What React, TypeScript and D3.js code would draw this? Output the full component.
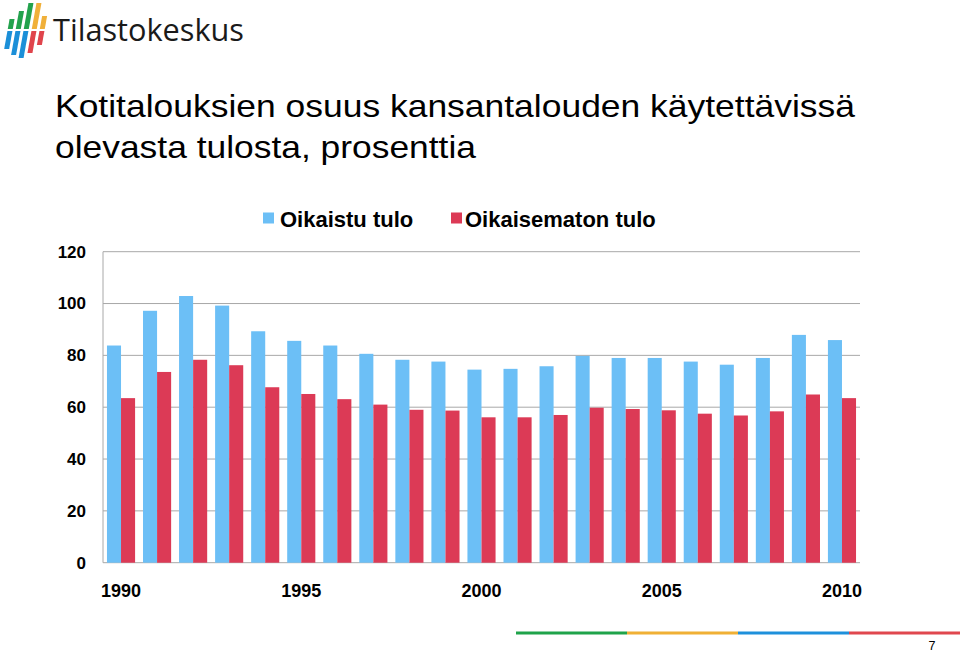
import React from "react";
import * as d3 from "d3";

const years = [1990,1991,1992,1993,1994,1995,1996,1997,1998,1999,2000,2001,2002,2003,2004,2005,2006,2007,2008,2009,2010];
const adjusted = [83.8,97.2,102.9,99.2,89.3,85.6,83.8,80.6,78.3,77.6,74.5,74.8,75.8,79.8,79.0,79.0,77.6,76.4,79.0,87.9,85.9];
const unadjusted = [63.5,73.6,78.3,76.2,67.7,65.1,63.1,61.0,59.0,58.7,56.1,56.1,57.0,59.8,59.3,58.8,57.5,56.8,58.4,64.9,63.5];
const seriesNames = ["Oikaistu tulo", "Oikaisematon tulo"];
const yTicks = [0,20,40,60,80,100,120];
const xLabelYears = [1990,1995,2000,2005,2010];
const titleLines = ["Kotitalouksien osuus kansantalouden käytettävissä", "olevasta tulosta, prosenttia"];

const COLORS = ["#6cbff6", "#dc3a56"];
const FONT = "'Liberation Sans', Arial, sans-serif";

export default function App() {
  const W = 960, H = 653;
  const left = 103, right = 860, top = 251.7, bottom = 562.7;
  const x = d3.scaleBand<number>().domain(years).range([left, right]).paddingInner(0.22).paddingOuter(0.11);
  const xs = d3.scaleBand<number>().domain([0, 1]).range([0, x.bandwidth()]);
  const y = d3.scaleLinear().domain([0, 120]).range([bottom, top]);
  const series = [adjusted, unadjusted];

  const stripes = [
    { xt: 7, yt: 19, yb: 49, up: "#23a24d", lo: "#1b8fd8" },
    { xt: 15, yt: 11, yb: 55, up: "#23a24d", lo: "#1b8fd8" },
    { xt: 23, yt: 3, yb: 58, up: "#23a24d", lo: "#1b8fd8" },
    { xt: 31, yt: 3, yb: 53, up: "#f0b03a", lo: "#e0444c" },
    { xt: 39, yt: 16, yb: 45, up: "#f0b03a", lo: "#e0444c" },
  ];
  const slant = 0.18;
  const sw = 5;
  const mid = 30;
  const para = (xt: number, y0: number, y1: number) => {
    const xa = xt - y0 * slant, xb = xt - y1 * slant;
    return `${xa},${y0} ${xa + sw},${y0} ${xb + sw},${y1} ${xb},${y1}`;
  };

  const titleLens = [800, 421];

  return (
    <svg width={W} height={H} style={{ position: "absolute", left: 0, top: 0, background: "#fff" }} fontFamily={FONT}>
      <rect width={W} height={H} fill="#fff" />
      {stripes.map((s, i) => (
        <g key={i}>
          <polygon points={para(s.xt + 6, s.yt, mid - 1)} fill={s.up} />
          <polygon points={para(s.xt + 6, mid + 1, s.yb)} fill={s.lo} />
        </g>
      ))}
      <text x={53} y={41} fontSize={31} fontFamily="'Open Sans', sans-serif" fill="#1a1a1a" textLength={191} lengthAdjust="spacingAndGlyphs">Tilastokeskus</text>

      {titleLines.map((t, i) => (
        <text key={i} x={55} y={117 + i * 41} fontSize={32} fill="#000" textLength={titleLens[i]} lengthAdjust="spacingAndGlyphs">{t}</text>
      ))}

      <rect x={263} y={212.5} width={11} height={11} fill={COLORS[0]} />
      <text x={280} y={226.5} fontSize={22} fontWeight="bold" fill="#000">{seriesNames[0]}</text>
      <rect x={451} y={212.5} width={11} height={11} fill={COLORS[1]} />
      <text x={465} y={226.5} fontSize={22} fontWeight="bold" fill="#000">{seriesNames[1]}</text>

      {yTicks.map((t) => (
        <line key={t} x1={left} x2={right} y1={y(t)} y2={y(t)} stroke="#a8a8a8" strokeWidth={1} />
      ))}
      <line x1={left} x2={left} y1={top} y2={bottom} stroke="#a8a8a8" strokeWidth={1} />
      {yTicks.map((t) => (
        <text key={t} x={86} y={y(t)} dy="0.35em" textAnchor="end" fontSize={17} fontWeight="bold" fill="#000">{t}</text>
      ))}

      {series.map((vals, si) =>
        vals.map((v, i) => (
          <rect key={`${si}-${i}`} x={(x(years[i]) as number) + (xs(si) as number)} y={y(v)} width={xs.bandwidth()} height={y(0) - y(v)} fill={COLORS[si]} />
        ))
      )}

      {xLabelYears.map((yr) => (
        <text key={yr} x={(x(yr) as number) + x.bandwidth() / 2} y={597} textAnchor="middle" fontSize={18} fontWeight="bold" fill="#000">{yr}</text>
      ))}

      {["#1fa34a", "#f0b035", "#1e90db", "#e0474e"].map((c, i) => (
        <rect key={c} x={516 + i * 111} y={631.5} width={111} height={3} fill={c} />
      ))}
      <text x={932} y={650} textAnchor="middle" fontSize={12.5} fill="#000">7</text>
    </svg>
  );
}
